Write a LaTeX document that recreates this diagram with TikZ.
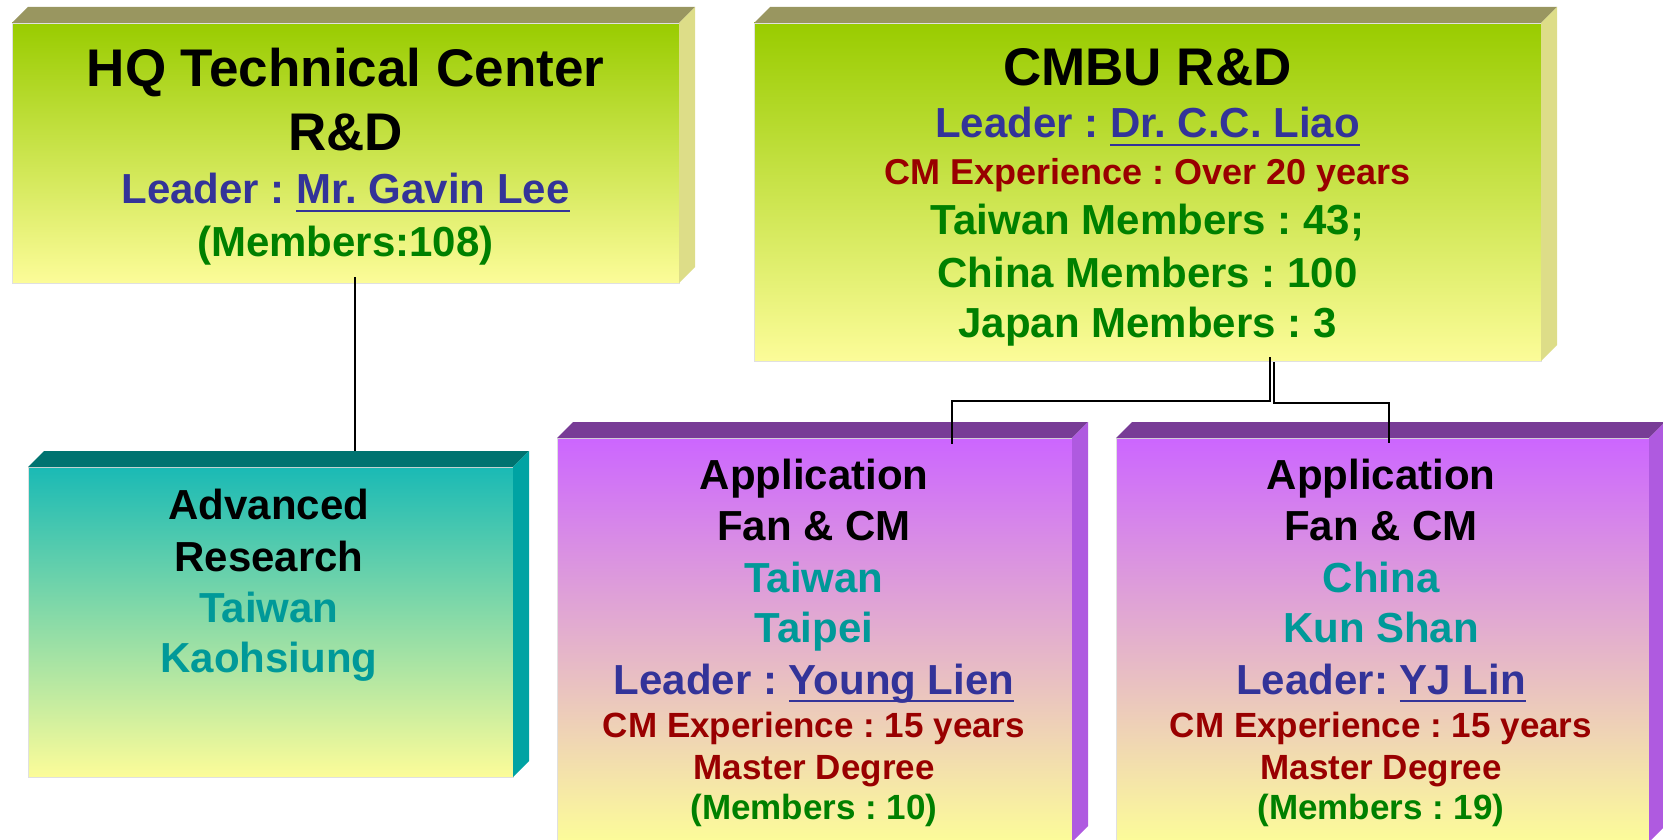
\documentclass[tikz,border=0pt]{standalone}
\usepackage{fontspec}
\setmainfont{Liberation Sans}
\frenchspacing
\definecolor{ldrblue}{HTML}{333399}
\definecolor{redc}{HTML}{990000}
\definecolor{grnc}{HTML}{008000}
\definecolor{tealc}{HTML}{009999}
\definecolor{lgreen}{HTML}{99CC00}
\definecolor{lyellow}{HTML}{FCFC99}
\definecolor{olivetop}{HTML}{999660}
\definecolor{oliveside}{HTML}{DDDD88}
\definecolor{tealtop}{HTML}{1ABAB5}
\definecolor{tealface}{HTML}{007370}
\definecolor{tealside}{HTML}{00A3A3}
\definecolor{purptop}{HTML}{CC66FF}
\definecolor{purpface}{HTML}{783C96}
\definecolor{purpside}{HTML}{AF5AE0}
\newcommand\ulx[1]{\setbox0=\hbox{#1}\rlap{\rule[-0.2em]{\wd0}{0.05em}}\box0}
\tikzset{
  front/.style={rectangle, inner sep=0pt, outer sep=0pt, draw=black!12, line width=0.8pt},
  lbl/.style={anchor=base, inner sep=0pt, outer sep=0pt, align=center},
  fbig/.style={lbl, font=\fontsize{53}{60}\selectfont\bfseries\frenchspacing, text=black},
  fblk/.style={lbl, font=\fontsize{42}{50}\selectfont\bfseries\frenchspacing, text=black},
  fldr/.style={lbl, font=\fontsize{42}{50}\selectfont\bfseries\frenchspacing, text=ldrblue},
  fgrn/.style={lbl, font=\fontsize{42}{50}\selectfont\bfseries\frenchspacing, text=grnc},
  fteal/.style={lbl, font=\fontsize{42}{50}\selectfont\bfseries\frenchspacing, text=tealc},
  fred/.style={lbl, font=\fontsize{36}{42}\selectfont\bfseries\frenchspacing, text=redc},
  freds/.style={lbl, font=\fontsize{35}{42}\selectfont\bfseries\frenchspacing, text=redc},
  fgrns/.style={lbl, font=\fontsize{35}{42}\selectfont\bfseries\frenchspacing, text=grnc},
  conn/.style={draw=black, line width=1.6pt},
}
% 3D faces: #1 node name, #2 top colour, #3 side colour
\newcommand\boxfaces[3]{%
  \fill[#2] (#1.north west) -- ++(16,-16) -- ([shift={(16,-16)}]#1.north east) -- (#1.north east) -- cycle;
  \fill[#3] (#1.north east) -- ++(16,-16) -- ([shift={(16,-16)}]#1.south east) -- (#1.south east) -- cycle;
}
\begin{document}
\begin{tikzpicture}[x=1pt,y=-1pt]
\useasboundingbox (0,0) rectangle (1663,840);
\clip (0,0) rectangle (1663,840);

% boxes
\node[front, top color=lgreen, bottom color=lyellow, minimum width=667pt, minimum height=260pt] (hq) at (345.5,153) {};
\boxfaces{hq}{olivetop}{oliveside}
\node[front, top color=lgreen, bottom color=lyellow, minimum width=787pt, minimum height=338pt] (cmbu) at (1147.5,192) {};
\boxfaces{cmbu}{olivetop}{oliveside}
\node[front, top color=tealtop, bottom color=lyellow, minimum width=485pt, minimum height=310pt] (adv) at (270.5,622) {};
\boxfaces{adv}{tealface}{tealside}
\node[front, top color=purptop, bottom color=lyellow, minimum width=515pt, minimum height=404pt] (apptw) at (814.5,640) {};
\boxfaces{apptw}{purpface}{purpside}
\node[front, top color=purptop, bottom color=lyellow, minimum width=533pt, minimum height=404pt] (appcn) at (1382.5,640) {};
\boxfaces{appcn}{purpface}{purpside}

% connectors
\coordinate (k1) at (355,0);
\coordinate (k2) at (1270,0);
\coordinate (k3) at (1274,0);
\coordinate (k4) at (952,0);
\coordinate (k5) at (1389,0);
\coordinate (j1) at (0,401);
\coordinate (j2) at (0,403);
\draw[conn] ([yshift=6pt]hq.south -| k1) -- ([yshift=16pt]adv.north -| k1);
\draw[conn] ([yshift=4pt]cmbu.south -| k2) |- (j1 -| k4) -- ([yshift=-6pt]apptw.north -| k4);
\draw[conn] ([yshift=-1pt]cmbu.south -| k3) |- (j2 -| k5) -- ([yshift=-5pt]appcn.north -| k5);

% HQ text
\node[fbig] (hq1) at (345.5,87) {HQ Technical Center};
\node[fbig] (hq2) at (345.5,151) {R\&D};
\node[fldr] (hq3) at (345.5,204) {Leader : \ulx{Mr. Gavin Lee}};
\node[fgrn] (hq4) at (345.5,256) {(Members:108)};

% CMBU text
\node[fbig] (cm1) at (1147.5,86) {CMBU R\&D};
\node[fldr] (cm2) at (1147.5,138) {Leader : \ulx{Dr. C.C. Liao}};
\node[fred] (cm3) at (1147.5,184) {CM Experience : Over 20 years};
\node[fgrn] (cm4) at (1147.5,234) {Taiwan Members : 43;};
\node[fgrn] (cm5) at (1147.5,287) {China Members : 100};
\node[fgrn] (cm6) at (1147.5,337) {Japan Members : 3};

% Advanced research text
\node[fblk] (ad1) at (269,519) {Advanced};
\node[fblk] (ad2) at (269,571) {Research};
\node[fteal] (ad3) at (269,622) {Taiwan};
\node[fteal] (ad4) at (269,672) {Kaohsiung};

% Application Taiwan text
\node[fblk] (tw1) at (814,489) {Application};
\node[fblk] (tw2) at (814,540) {Fan \& CM};
\node[fteal] (tw3) at (814,592) {Taiwan};
\node[fteal] (tw4) at (814,642) {Taipei};
\node[fldr] (tw5) at (814,694) {Leader : \ulx{Young Lien}};
\node[freds] (tw6) at (814,737) {CM Experience : 15 years};
\node[freds] (tw7) at (814,779) {Master Degree};
\node[fgrns] (tw8) at (814,819) {(Members : 10)};

% Application China text
\node[fblk] (cn1) at (1381,489) {Application};
\node[fblk] (cn2) at (1381,540) {Fan \& CM};
\node[fteal] (cn3) at (1381,592) {China};
\node[fteal] (cn4) at (1381,642) {Kun Shan};
\node[fldr] (cn5) at (1381,694) {Leader: \ulx{YJ Lin}};
\node[freds] (cn6) at (1381,737) {CM Experience : 15 years};
\node[freds] (cn7) at (1381,779) {Master Degree};
\node[fgrns] (cn8) at (1381,819) {(Members : 19)};
\end{tikzpicture}
\end{document}
